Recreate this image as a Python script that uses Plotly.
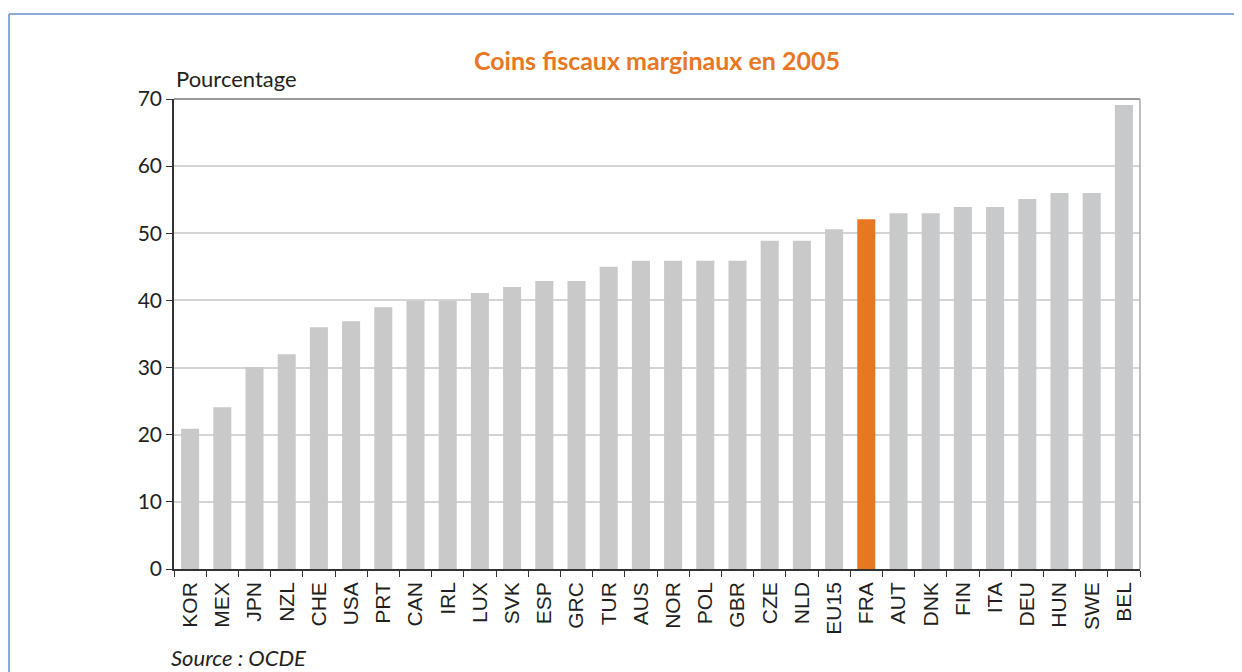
import plotly.graph_objects as go

countries = ["KOR", "MEX", "JPN", "NZL", "CHE", "USA", "PRT", "CAN", "IRL", "LUX",
             "SVK", "ESP", "GRC", "TUR", "AUS", "NOR", "POL", "GBR", "CZE", "NLD",
             "EU15", "FRA", "AUT", "DNK", "FIN", "ITA", "DEU", "HUN", "SWE", "BEL"]
values = [20.9, 24.1, 30.1, 32.0, 36.0, 36.9, 39.0, 39.9, 39.9, 41.1,
          42.0, 42.9, 42.9, 45.0, 45.9, 45.9, 45.9, 45.9, 48.9, 48.9,
          50.6, 52.1, 53.0, 53.0, 53.9, 53.9, 55.1, 56.0, 56.0, 69.1]
highlight = "FRA"
y_ticks = [0, 10, 20, 30, 40, 50, 60, 70]

GREY = "#C8C9CA"
ORANGE = "#E87722"
colors = [ORANGE if c == highlight else GREY for c in countries]

fig = go.Figure(go.Bar(x=countries, y=values, marker=dict(color=colors, line=dict(width=0)),
                       showlegend=False))

# page body has an 8px margin: figure is sized/positioned to compensate
W, H = 1234, 664
fig.update_layout(
    width=W, height=H,
    paper_bgcolor="white", plot_bgcolor="white",
    margin=dict(l=166, r=102, t=91, b=103),
    bargap=0.44,
    font=dict(family="Liberation Sans, Arial, sans-serif", size=21, color="#231F20"),
    title=dict(text="<b>Coins fiscaux marginaux en 2005</b>",
               font=dict(family="Lato, sans-serif", size=25, color=ORANGE),
               x=0.5, xref="paper", xanchor="center", y=1 - 53 / H, yref="container",
               yanchor="middle"),
    xaxis=dict(type="category", tickangle=-90, ticks="outside", ticklen=6, tickson="boundaries",
               tickcolor="#333333", showline=True, linecolor="#333333", linewidth=1.5,
               mirror=False, showgrid=False, tickfont=dict(size=21), ticklabelstandoff=3),
    yaxis=dict(range=[0, 70], tickvals=y_ticks, ticks="outside", ticklen=6, tickcolor="#333333",
               showline=True, linecolor="#333333", linewidth=1.5, showgrid=True,
               gridcolor="#D4D4D4", gridwidth=1.5, zeroline=False,
               tickfont=dict(family="Lato, sans-serif", size=21)),
)

# plot frame (top & right)
fig.add_shape(type="line", xref="paper", yref="paper", x0=0, x1=1, y0=1, y1=1,
              line=dict(color="#999999", width=2))
fig.add_shape(type="line", xref="paper", yref="paper", x0=1, x1=1, y0=0, y1=1,
              line=dict(color="#AAAAAA", width=1.5))

# outer blue border (only top and left edges visible in the frame)
fig.add_shape(type="line", xref="paper", yref="paper",
              x0=-165 / 966, x1=1.5, y0=1 + 85 / 470, y1=1 + 85 / 470,
              line=dict(color="#6A8DC8", width=1.5), layer="below")
fig.add_shape(type="line", xref="paper", yref="paper",
              x0=-165 / 966, x1=-165 / 966, y0=-0.5, y1=1 + 85 / 470,
              line=dict(color="#6A8DC8", width=1.5), layer="below")

fig.add_annotation(text="Pourcentage", xref="paper", yref="paper", x=0, y=(569 - 78) / 470,
                   xanchor="left", yanchor="middle", showarrow=False,
                   font=dict(family="Lato, sans-serif", size=22, color="#231F20"))
fig.add_annotation(text="<i>Source : OCDE</i>", xref="paper", yref="paper", x=-5 / 966,
                   y=(569 - 657) / 470, xanchor="left", yanchor="middle", showarrow=False,
                   font=dict(family="Lato, sans-serif", size=22, color="#231F20"))

fig.write_html("out.html")
